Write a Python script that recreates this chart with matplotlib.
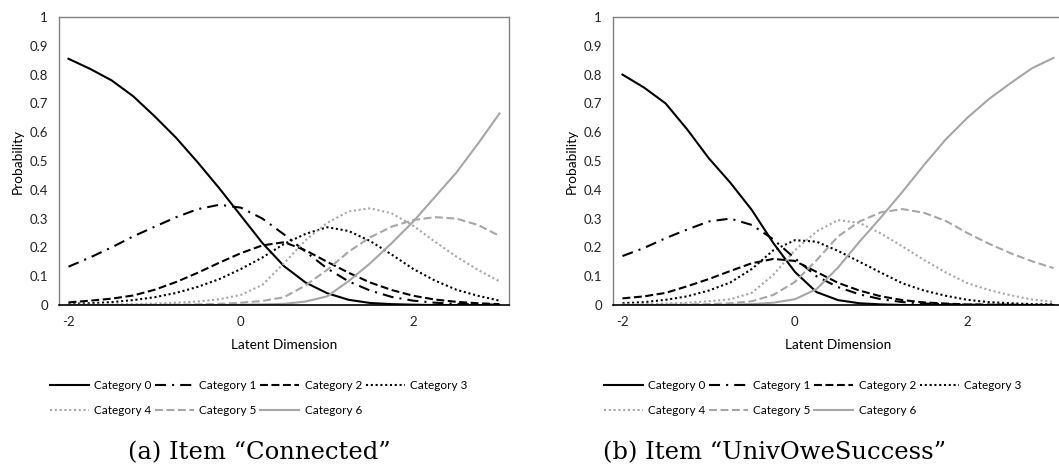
import matplotlib.pyplot as plt
import numpy as np

plt.rcParams['font.family'] = ['Lato', 'DejaVu Sans']

theta = [-2.0, -1.75, -1.5, -1.25, -1.0, -0.75, -0.5, -0.25, 0.0, 0.25, 0.5,
         0.75, 1.0, 1.25, 1.5, 1.75, 2.0, 2.25, 2.5, 2.75, 3.0]
labels = ['Category 0', 'Category 1', 'Category 2', 'Category 3',
          'Category 4', 'Category 5', 'Category 6']

# item "Connected"
con_c0 = [0.855, 0.82, 0.78, 0.725, 0.655, 0.58, 0.495, 0.405, 0.31, 0.215, 0.135,
          0.078, 0.041, 0.018, 0.007, 0.003, 0.001, 0.0, 0.0, 0.0, 0.0]
con_c1 = [0.133, 0.165, 0.2, 0.238, 0.272, 0.305, 0.333, 0.348, 0.338, 0.3, 0.245,
          0.185, 0.127, 0.082, 0.05, 0.028, 0.015, 0.008, 0.004, 0.002, 0.001]
con_c2 = [0.009, 0.015, 0.022, 0.033, 0.053, 0.08, 0.112, 0.147, 0.18, 0.207, 0.218,
          0.19, 0.15, 0.112, 0.078, 0.052, 0.032, 0.019, 0.011, 0.006, 0.003]
con_c3 = [0.004, 0.006, 0.01, 0.017, 0.027, 0.042, 0.063, 0.09, 0.125, 0.165, 0.212,
          0.247, 0.27, 0.257, 0.222, 0.175, 0.125, 0.085, 0.053, 0.032, 0.015]
con_c4 = [0.001, 0.001, 0.002, 0.003, 0.005, 0.008, 0.012, 0.02, 0.035, 0.07, 0.145,
          0.225, 0.285, 0.325, 0.336, 0.318, 0.275, 0.22, 0.168, 0.122, 0.082]
con_c5 = [0.0, 0.0, 0.0, 0.0, 0.001, 0.001, 0.002, 0.004, 0.008, 0.014, 0.027,
          0.068, 0.122, 0.185, 0.235, 0.272, 0.295, 0.305, 0.3, 0.278, 0.24]
con_c6 = [0.0, 0.0, 0.0, 0.0, 0.0, 0.0, 0.0, 0.0, 0.001, 0.002, 0.004,
          0.012, 0.03, 0.083, 0.145, 0.215, 0.29, 0.375, 0.46, 0.56, 0.665]

# item "UnivOweSuccess"
uos_c0 = [0.80, 0.755, 0.70, 0.61, 0.51, 0.425, 0.33, 0.215, 0.115, 0.045, 0.017,
          0.006, 0.002, 0.0, 0.0, 0.0, 0.0, 0.0, 0.0, 0.0, 0.0]
uos_c1 = [0.17, 0.198, 0.232, 0.262, 0.29, 0.3, 0.278, 0.228, 0.162, 0.1, 0.062,
          0.037, 0.02, 0.01, 0.005, 0.003, 0.001, 0.001, 0.0, 0.0, 0.0]
uos_c2 = [0.023, 0.03, 0.042, 0.065, 0.09, 0.118, 0.145, 0.16, 0.153, 0.115, 0.077,
          0.05, 0.03, 0.017, 0.009, 0.005, 0.002, 0.001, 0.001, 0.0, 0.0]
uos_c3 = [0.006, 0.01, 0.018, 0.03, 0.05, 0.078, 0.125, 0.19, 0.225, 0.22, 0.188,
          0.15, 0.112, 0.075, 0.05, 0.032, 0.018, 0.01, 0.006, 0.003, 0.002]
uos_c4 = [0.002, 0.003, 0.005, 0.008, 0.013, 0.02, 0.042, 0.105, 0.19, 0.255, 0.295,
          0.285, 0.248, 0.203, 0.156, 0.113, 0.076, 0.052, 0.034, 0.019, 0.011]
uos_c5 = [0.0, 0.001, 0.001, 0.002, 0.003, 0.006, 0.013, 0.035, 0.08, 0.155, 0.238,
          0.29, 0.322, 0.333, 0.32, 0.292, 0.25, 0.213, 0.18, 0.152, 0.128]
uos_c6 = [0.0, 0.0, 0.0, 0.0, 0.0, 0.001, 0.003, 0.008, 0.02, 0.055, 0.13,
          0.22, 0.305, 0.394, 0.487, 0.575, 0.65, 0.715, 0.77, 0.822, 0.858]

connected = [con_c0, con_c1, con_c2, con_c3, con_c4, con_c5, con_c6]
univowe = [uos_c0, uos_c1, uos_c2, uos_c3, uos_c4, uos_c5, uos_c6]

gray = '#a6a6a6'
styles = [
    dict(color='black', linestyle='-'),
    dict(color='black', linestyle=(0, (5.3, 2.9, 1, 2.9))),
    dict(color='black', linestyle=(0, (3.8, 1.7))),
    dict(color='black', linestyle=(0, (1, 1.3))),
    dict(color=gray, linestyle=(0, (1, 1.3))),
    dict(color=gray, linestyle=(0, (3.8, 1.7))),
    dict(color=gray, linestyle='-'),
]

W, H = 1059, 476
fig = plt.figure(figsize=(W / 100, H / 100), dpi=100)

panels = [(59, connected, u'(a) Item \u201cConnected\u201d', 259),
          (613, univowe, u'(b) Item \u201cUnivOweSuccess\u201d', 775)]

for left, curves, caption, cap_x in panels:
    ax = fig.add_axes([left / W, 1 - 305 / H, 450 / W, 288 / H])
    lines = []
    for vals, lab, st in zip(curves, labels, styles):
        ln, = ax.plot(theta, vals, lw=1.5, label=lab, **st)
        lines.append(ln)
    ax.set_xlim(-2.11, 3.11)
    ax.set_ylim(0, 1)
    ax.set_xticks([-2, 0, 2])
    ax.set_xticklabels(['-2', '0', '2'])
    ax.set_yticks(np.arange(0, 1.01, 0.1))
    ax.set_yticklabels(['0', '0.1', '0.2', '0.3', '0.4', '0.5', '0.6', '0.7', '0.8', '0.9', '1'])
    ax.tick_params(length=0, labelsize=9.5, pad=8, colors='#222222')
    for s in ['left', 'top', 'right']:
        ax.spines[s].set_color('#808080')
        ax.spines[s].set_linewidth(1)
    ax.spines['bottom'].set_color('black')
    ax.spines['bottom'].set_linewidth(1.2)
    ax.set_ylabel('Probability', fontsize=9.8)
    ax.yaxis.set_label_coords(-35 / 450, 0.5)
    ax.set_xlabel('Latent Dimension', fontsize=9.8)
    ax.xaxis.set_label_coords(0.5, -34 / 288)

    order = [0, 4, 1, 5, 2, 6, 3]
    fig.legend([lines[i] for i in order], [labels[i] for i in order],
               loc='upper left', bbox_to_anchor=((left - 9) / W, 1 - 380 / H),
               ncol=4, frameon=False, fontsize=8.5, handlelength=3.3,
               handletextpad=0.45, columnspacing=0.3, labelspacing=1.2,
               borderpad=0, borderaxespad=0)

    fig.text(cap_x / W, 1 - 453 / H, caption, ha='center', va='center',
             fontsize=17.5, family=['DejaVu Serif'])

fig.savefig('out.png', dpi=100)
